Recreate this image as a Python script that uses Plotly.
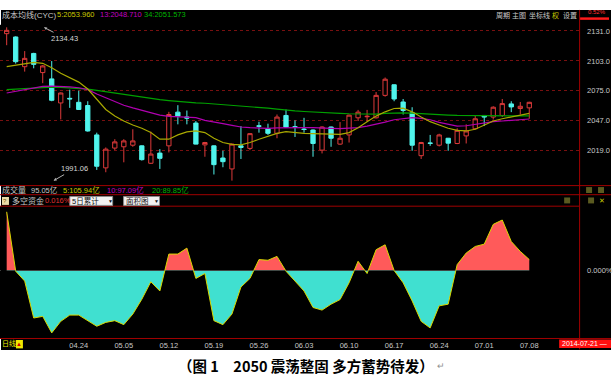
import plotly.graph_objects as go

W, H = 613, 386

# ---------------- data ----------------
dates = ["04.14","04.15","04.16","04.17","04.18","04.21","04.22","04.23","04.24","04.25","04.28","04.29","04.30",
         "05.05","05.06","05.07","05.08","05.09","05.12","05.13","05.14","05.15","05.16","05.19","05.20","05.21",
         "05.22","05.23","05.26","05.27","05.28","05.29","05.30",
         "06.03","06.04","06.05","06.06","06.09","06.10","06.11","06.12","06.13","06.16","06.17","06.18","06.19",
         "06.20","06.23","06.24","06.25","06.26","06.27","06.30",
         "07.01","07.02","07.03","07.04","07.07","07.08"]

tick_dates = ["04.24","05.05","05.12","05.19","05.26","06.03","06.10","06.17","06.24","07.01","07.08"]

open_ = [2128.5,2125.4,2097.6,2110.0,2092.1,2086.2,2063.7,2068.0,2064.3,2061.3,2033.8,2003.0,2021.5,2022.7,2024.2,
         2023.6,2007.3,2016.8,2023.6,2055.1,2050.6,2044.9,2024.5,2023.6,2012.2,2002.0,2023.6,2021.2,2042.3,2039.6,
         2035.3,2052.0,2041.5,2039.3,2038.4,2019.6,2041.2,2025.2,2033.8,2049.8,2050.8,2049.8,2070.8,2080.7,2064.6,
         2054.5,2014.4,2026.3,2024.2,2030.7,2025.8,2032.9,2039.6,2052.0,2050.5,2052.0,2062.8,2058.5,2059.1]
high = [2134.43,2126.0,2112.2,2110.6,2099.2,2102.9,2073.5,2076.1,2075.1,2065.3,2035.9,2022.1,2029.8,2029.8,2039.1,
        2024.0,2036.9,2020.5,2055.4,2061.6,2056.6,2046.8,2027.3,2024.0,2019.0,2025.8,2042.1,2035.6,2046.1,2044.3,
        2052.9,2057.5,2047.4,2049.8,2038.9,2041.8,2041.6,2045.8,2052.8,2057.2,2057.2,2073.9,2087.5,2081.0,2067.4,
        2059.7,2027.3,2033.8,2034.9,2031.0,2040.0,2043.7,2052.3,2052.4,2060.6,2067.4,2065.3,2064.6,2064.8]
low = [2117.7,2100.5,2093.0,2096.1,2082.2,2065.3,2048.3,2059.1,2057.3,2036.9,2001.1,1998.9,2019.6,2008.2,2022.7,
       2009.8,2006.6,2002.0,2017.4,2043.7,2043.7,2025.0,2013.4,1996.8,2003.6,1991.06,2011.3,2019.6,2035.9,2033.8,
       2030.7,2040.6,2031.9,2035.9,2013.4,2016.5,2022.7,2024.6,2026.7,2046.8,2046.2,2049.2,2069.6,2065.3,2052.9,
       2019.0,2011.3,2023.6,2023.0,2019.0,2025.2,2025.8,2039.0,2042.1,2048.2,2050.5,2055.1,2052.9,2048.9]
close = [2131.6,2102.3,2105.4,2099.8,2098.3,2066.2,2073.0,2067.5,2057.6,2037.5,2004.5,2020.5,2027.3,2028.2,2028.2,
         2010.7,2015.9,2011.9,2052.9,2051.4,2049.5,2025.2,2026.7,2006.0,2008.8,2025.2,2022.1,2035.0,2041.9,2035.3,
         2050.5,2041.2,2041.0,2038.9,2025.8,2041.2,2030.7,2030.7,2052.3,2055.1,2051.2,2070.8,2085.9,2067.4,2056.6,
         2024.2,2026.7,2025.9,2033.8,2026.1,2038.1,2037.5,2048.9,2050.5,2059.7,2063.1,2060.0,2060.6,2064.3]

ma5 = [2097.7,2099.2,2100.8,2101.7,2100.8,2096.7,2091.5,2087.5,2083.2,2076.7,2066.8,2057.6,2051.4,2046.8,2043.1,
       2040.0,2036.0,2029.8,2029.8,2033.8,2036.6,2037.5,2036.0,2030.7,2026.7,2024.9,2024.5,2026.7,2029.8,2032.9,
       2035.3,2036.9,2036.0,2035.3,2035.0,2035.0,2034.4,2034.4,2036.0,2040.6,2046.2,2051.4,2055.4,2058.5,2058.8,
       2055.4,2050.5,2046.2,2043.1,2040.0,2038.1,2037.5,2039.1,2043.1,2046.8,2048.9,2050.8,2052.3,2053.960]
ma13 = [2073.0,2074.5,2076.7,2078.2,2079.2,2079.5,2079.5,2078.8,2077.9,2076.1,2072.1,2068.4,2064.7,2061.6,2059.1,
        2056.6,2054.5,2052.3,2051.1,2050.5,2050.2,2049.9,2047.4,2045.5,2044.3,2042.8,2041.2,2040.6,2040.0,2040.0,
        2040.3,2040.6,2040.6,2040.6,2040.6,2040.6,2040.0,2039.7,2040.0,2040.6,2042.1,2043.7,2045.8,2048.0,2049.2,
        2049.9,2049.2,2048.0,2045.5,2043.7,2042.1,2042.4,2043.7,2045.2,2046.2,2046.8,2047.4,2048.3,2048.710]
ma34 = [2076.1,2076.7,2077.3,2077.6,2078.2,2078.5,2078.2,2077.9,2077.3,2076.7,2075.5,2074.2,2073.0,2071.8,2070.5,
        2069.3,2068.0,2066.8,2065.9,2065.0,2064.4,2063.7,2063.4,2062.8,2062.2,2061.6,2061.0,2060.3,2059.7,2058.8,
        2057.9,2056.9,2056.3,2055.7,2055.1,2054.8,2054.2,2053.9,2053.6,2053.3,2052.9,2053.3,2053.9,2054.5,2054.5,
        2054.2,2053.6,2052.9,2052.6,2052.3,2052.0,2052.0,2051.7,2051.7,2051.7,2051.7,2051.7,2051.6,2051.573]

# 多空资金 (5-day cumulative, %)
flow = [0.0860,-0.0010,-0.0155,-0.0696,-0.0672,-0.0914,-0.0745,-0.0653,-0.0653,-0.0735,-0.0817,-0.0760,-0.0735,
        -0.0793,-0.0638,-0.0421,-0.0165,-0.0300,0.0241,0.0241,0.0328,-0.0116,-0.0044,-0.0735,-0.0793,-0.0638,
        -0.0242,-0.0116,0.0160,0.0150,0.0207,-0.0010,-0.0155,-0.0300,-0.0542,-0.0580,-0.0493,-0.0426,-0.0180,
        0.0135,-0.0044,0.0305,0.0377,0.0000,-0.0180,-0.0445,-0.0745,-0.0841,-0.0518,-0.0493,0.0087,0.0256,
        0.0352,0.0386,0.0676,0.0740,0.0425,0.0280,0.0160]

price_ticks = [2019, 2047, 2075, 2103, 2131]
vol_labels = ["95.05亿", "5:105.94亿", "10:97.09亿", "20:89.85亿"]

# ---------------- helpers ----------------
def fx(px):
    return px / W

def fy(py):
    return 1 - py / H

UI = "Liberation Sans, Noto Sans CJK SC, sans-serif"
GRAY = "#c8c8c8"
YEL = "#c8c800"
MAG = "#c000c0"
GRN = "#00b400"
RED = "#dd3a3a"
CYAN = "#50f4ec"
DARKRED = "#a00000"

fig = go.Figure()

# candles
fig.add_trace(go.Candlestick(
    x=dates, open=open_, high=high, low=low, close=close,
    increasing=dict(line=dict(color=RED, width=1), fillcolor="black"),
    decreasing=dict(line=dict(color=CYAN, width=1), fillcolor=CYAN),
    xaxis="x", yaxis="y", hoverinfo="skip", showlegend=False))

for vals, col in [(ma34, "#00a000"), (ma13, "#b000b0"), (ma5, "#a8a800")]:
    fig.add_trace(go.Scatter(x=dates, y=vals, mode="lines", line=dict(color=col, width=1.2),
                             xaxis="x", yaxis="y", hoverinfo="skip", showlegend=False))

# lower panel: positive part on y2, negative part on y3 (clipped by the axes)
fig.add_trace(go.Scatter(x=dates, y=flow, mode="lines", fill="tozeroy", fillcolor="#ff5a5a",
                         line=dict(color="#d8d800", width=1), xaxis="x2", yaxis="y2",
                         hoverinfo="skip", showlegend=False))
fig.add_trace(go.Scatter(x=dates, y=flow, mode="lines", fill="tozeroy", fillcolor="#40e0d0",
                         line=dict(color="#d8d800", width=1), xaxis="x2", yaxis="y3",
                         hoverinfo="skip", showlegend=False))

# axis geometry
PLOT_R = 581
x_rng = [-0.741, 63.53]
zero_py, top_py, bot_py = 269.3, 204.3, 337.7
k = 0.00145  # % per pixel in lower panel

fig.update_layout(
    width=W, height=H, margin=dict(l=0, r=0, t=0, b=0),
    paper_bgcolor="white", plot_bgcolor="black",
    hovermode=False, showlegend=False, boxgap=0.32,
    xaxis=dict(domain=[0, fx(PLOT_R)], type="category", range=x_rng, anchor="y",
               showticklabels=False, showgrid=False, zeroline=False, showline=False,
               rangeslider=dict(visible=False), fixedrange=True),
    xaxis2=dict(domain=[0, fx(PLOT_R)], type="category", range=x_rng, anchor="y3", matches="x",
                tickmode="array", tickvals=tick_dates, ticktext=tick_dates, ticks="",
                tickfont=dict(family=UI, size=7.5, color=GRAY), showgrid=False, zeroline=False,
                showline=False, ticklabelstandoff=1),
    yaxis=dict(domain=[fy(183.3), fy(21)], range=[1986.6, 2136.8], side="right", anchor="x",
               tickmode="array", tickvals=price_ticks, ticktext=[f"{v:.1f}" for v in price_ticks],
               tickfont=dict(family=UI, size=7.5, color=GRAY), ticks="",
               showgrid=True, gridcolor="#781010", griddash="dot", gridwidth=1,
               zeroline=False, showline=False, ticklabelstandoff=7),
    yaxis2=dict(domain=[fy(zero_py), fy(top_py)], range=[0, (zero_py - top_py) * k], anchor="x2",
                showticklabels=False, showgrid=False, zeroline=False, ticks=""),
    yaxis3=dict(domain=[fy(bot_py), fy(zero_py)], range=[-(bot_py - zero_py) * k, 0], anchor="x2",
                side="right", tickmode="array", tickvals=[0], ticktext=["0.000%"],
                tickfont=dict(family=UI, size=7.5, color=GRAY), ticks="",
                showgrid=False, zeroline=False, ticklabelstandoff=7),
)

shapes = []
def rect(x0, y0, x1, y1, fill, line=None, layer="above"):
    shapes.append(dict(type="rect", xref="paper", yref="paper", x0=fx(x0), x1=fx(x1), y0=fy(y1), y1=fy(y0),
                       fillcolor=fill, line=dict(width=1 if line else 0, color=line or fill), layer=layer))

def hline(y, x0, x1, color=DARKRED, width=1):
    shapes.append(dict(type="line", xref="paper", yref="paper", x0=fx(x0), x1=fx(x1), y0=fy(y), y1=fy(y),
                       line=dict(color=color, width=width)))

def vline(x, y0, y1, color=DARKRED, width=1):
    shapes.append(dict(type="line", xref="paper", yref="paper", x0=fx(x), x1=fx(x), y0=fy(y0), y1=fy(y1),
                       line=dict(color=color, width=width)))

rect(1, 6, 613, 349.5, "black", layer="below")
hline(183.5, 0, 613)
hline(192.7, 0, 613)
hline(204.3, 0, PLOT_R)
hline(338, 0, 613)
vline(PLOT_R + 0.5, 6, 349)
rect(582, 13.5, 611, 16, "#ff1a1a")
# small UI widgets
rect(2, 195, 9, 203, "#eadca8")
rect(70, 194.5, 113, 203.5, "#f2f2f2", line="#8c8c8c")
rect(124, 194.5, 160, 203.5, "#f2f2f2", line="#8c8c8c")
rect(16, 339.5, 23, 348, "#f0e800")
rect(561, 339, 613, 347.5, "#ff1010")
for xx in (588, 600):
    rect(xx, 185, xx + 6, 191, "#5a5a20")
for xx in (566, 590):
    rect(xx, 195.5, xx + 6, 201.5, "#5a5a20")
fig.update_layout(shapes=shapes)

def txt(x, y, s, color=GRAY, size=8, anchor="left", family=UI, bold=False):
    fig.add_annotation(x=fx(x), y=fy(y), xref="paper", yref="paper", text=f"<b>{s}</b>" if bold else s,
                       showarrow=False, xanchor=anchor, yanchor="middle", borderpad=0,
                       font=dict(family=family, size=size, color=color))

# title row
txt(1, 11, "成本均线(CYC)", GRAY, 8)
txt(56, 11, f"5:{ma5[-1]:.3f}", YEL, 7.5)
txt(99, 11, f"13:{ma13[-1]:.3f}", MAG, 7.5)
txt(143, 11, f"34:{ma34[-1]:.3f}", GRN, 7.5)
for s, x, c in [("周期", 497, GRAY), ("主图", 513, GRAY), ("坐标线", 530, GRAY), ("权", 553, YEL), ("设置", 564, GRAY)]:
    txt(x, 12, s, c, 7)
txt(589, 8.5, "0.52%", "#ff3030", 6)

# volume row
txt(1, 187.5, "成交量", GRAY, 8)
for s, x, c in zip(vol_labels, [30, 62, 106, 151], [GRAY, YEL, MAG, GRN]):
    txt(x, 187.5, s, c, 7.5)

# 多空资金 row
txt(5.5, 199, "?", "#6a4a00", 6, anchor="center")
txt(11, 199, "多空资金", GRAY, 8)
txt(44, 199, f"{flow[-1]:.3f}%", "#e03030", 7.5)
txt(71, 199, "5日累计", "#101010", 7.5)
txt(107, 199.5, "▼", "#101010", 5)
txt(125, 199, "面积图", "#101010", 7.5)
txt(154, 199.5, "▼", "#101010", 5)
txt(604, 198.5, "✕", "#c8c800", 7, anchor="center")

# bottom row
txt(1, 343.5, "日线", "#e8e800", 7)
txt(19.5, 343.5, "▲", "#d00000", 6, anchor="center")
txt(563, 343.2, "2014-07-21 —", "white", 7)

# extreme labels
i_hi = high.index(max(high))
i_lo = low.index(min(low))
fig.add_annotation(x=dates[i_hi], y=high[i_hi], xref="x", yref="y", text=f"{high[i_hi]:.2f}",
                   showarrow=True, ax=21, ay=11, arrowcolor="#b0b0b0", arrowwidth=1, arrowhead=2,
                   arrowsize=0.6, font=dict(family=UI, size=7.5, color="#d8d8d8"))
fig.add_annotation(x=dates[i_lo], y=low[i_lo], xref="x", yref="y", text=f"{low[i_lo]:.2f}",
                   showarrow=True, ax=21, ay=-12, arrowcolor="#b0b0b0", arrowwidth=1, arrowhead=2,
                   arrowsize=0.6, font=dict(family=UI, size=7.5, color="#d8d8d8"))

# caption
txt(307, 365, "（图 1　2050 震荡整固 多方蓄势待发）", "black", 14.5, anchor="center",
    family="Noto Sans CJK SC", bold=True)
txt(437, 366, "↵", "#909090", 9)

fig.write_html("out.html", config={"displayModeBar": False},
               post_script="document.body.style.margin='0px';")
